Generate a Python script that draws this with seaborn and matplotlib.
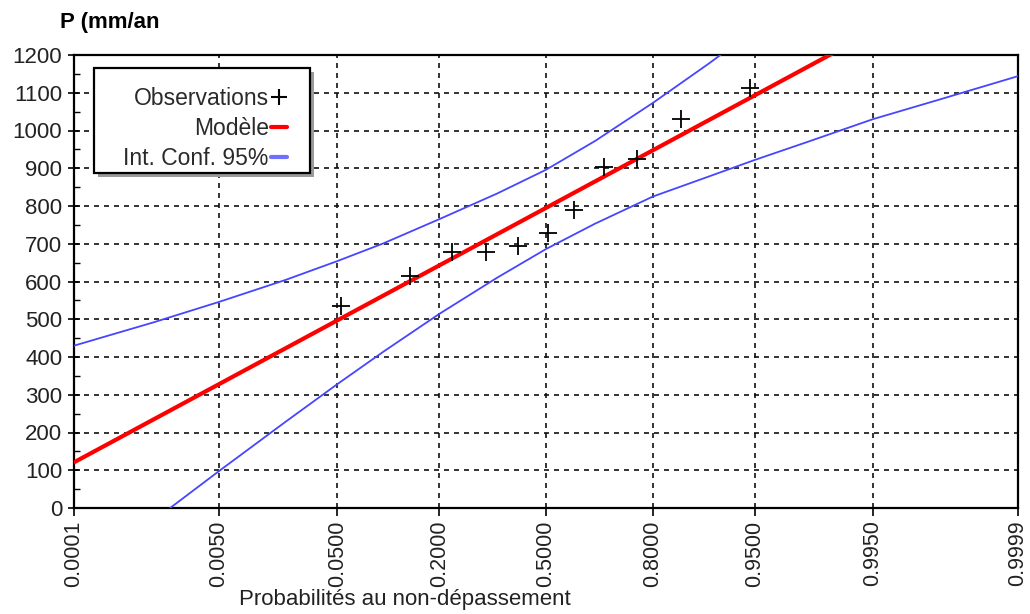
import math
import numpy as np
import pandas as pd
import matplotlib
matplotlib.use("Agg")
import matplotlib.pyplot as plt
from matplotlib.lines import Line2D
from matplotlib.patches import Rectangle
from matplotlib.ticker import FixedLocator, NullLocator, MultipleLocator
import seaborn as sns

# ---------------- data ----------------
tick_probs = [0.0001, 0.0050, 0.0500, 0.2000, 0.5000, 0.8000, 0.9500, 0.9950, 0.9999]
tick_labels = ["0.0001", "0.0050", "0.0500", "0.2000", "0.5000", "0.8000", "0.9500", "0.9950", "0.9999"]
y_ticks = list(range(0, 1201, 100))

obs_prob = [0.053, 0.142, 0.230, 0.318, 0.413, 0.506, 0.587, 0.676, 0.763, 0.856, 0.946]
obs_p = [535, 615, 678, 678, 694, 728, 789, 903, 924, 1030, 1112]

model_prob = [0.0001, 0.9999]
model_p = [121, 1469]

upper_prob = [0.0001, 0.001, 0.005, 0.02, 0.05, 0.1, 0.2, 0.35, 0.5, 0.65, 0.8, 0.9, 0.95]
upper_p = [430, 492, 546, 604, 654, 701, 765, 833, 896, 972, 1073, 1177, 1267]

lower_prob = [0.00153, 0.005, 0.02, 0.05, 0.1, 0.2, 0.35, 0.5, 0.65, 0.8, 0.9, 0.95, 0.98, 0.995, 0.999, 0.9999]
lower_p = [0, 98, 228, 328, 414, 514, 610, 686, 753, 825, 878, 922, 969, 1030, 1081, 1144]

labels = ["Observations", "Modèle", "Int. Conf. 95%"]

# ---------------- normal probability scale ----------------
_A = [-3.969683028665376e+01, 2.209460984245205e+02, -2.759285104469687e+02,
      1.383577518672690e+02, -3.066479806614716e+01, 2.506628277459239e+00]
_B = [-5.447609879822406e+01, 1.615858368580409e+02, -1.556989798598866e+02,
      6.680131188771972e+01, -1.328068155288572e+01]
_C = [-7.784894002430293e-03, -3.223964580411365e-01, -2.400758277161838e+00,
      -2.549671010229297e+00, 4.374664141464968e+00, 2.938163982698783e+00]
_D = [7.784695709041462e-03, 3.224671290700398e-01, 2.445134137142996e+00,
      3.754408661907416e+00]


def _ppf(p):
    p = np.clip(np.asarray(p, dtype=float), 1e-12, 1 - 1e-12)
    plow = 0.02425
    q = p - 0.5
    r = q * q
    central = (((((_A[0] * r + _A[1]) * r + _A[2]) * r + _A[3]) * r + _A[4]) * r + _A[5]) * q / \
              (((((_B[0] * r + _B[1]) * r + _B[2]) * r + _B[3]) * r + _B[4]) * r + 1)
    ql = np.sqrt(-2 * np.log(np.minimum(p, 1 - p)))
    tail = (((((_C[0] * ql + _C[1]) * ql + _C[2]) * ql + _C[3]) * ql + _C[4]) * ql + _C[5]) / \
           ((((_D[0] * ql + _D[1]) * ql + _D[2]) * ql + _D[3]) * ql + 1)
    out = np.where(p < plow, tail, np.where(p > 1 - plow, -tail, central))
    return out


_erf = np.vectorize(math.erf)


def _cdf(z):
    z = np.asarray(z, dtype=float)
    return 0.5 * (1 + _erf(z / math.sqrt(2)))


# ---------------- figure ----------------
sns.set_theme(style="white")
plt.rcParams["font.family"] = ["Liberation Sans", "DejaVu Sans"]

fig = plt.figure(figsize=(10.30, 6.14), dpi=100)
ax = fig.add_axes([74 / 1030, 1 - 508 / 614, (1018 - 74) / 1030, (508 - 55) / 614])
ax.set_xscale("function", functions=(_ppf, _cdf))

df_up = pd.DataFrame({"p": upper_prob, "v": upper_p})
df_lo = pd.DataFrame({"p": lower_prob, "v": lower_p})
df_mod = pd.DataFrame({"p": model_prob, "v": model_p})
df_obs = pd.DataFrame({"p": obs_prob, "v": obs_p})

blue = "#4646ff"
sns.lineplot(data=df_up, x="p", y="v", ax=ax, color=blue, lw=1.3, estimator=None, sort=False, zorder=3)
sns.lineplot(data=df_lo, x="p", y="v", ax=ax, color=blue, lw=1.3, estimator=None, sort=False, zorder=3)
sns.lineplot(data=df_mod, x="p", y="v", ax=ax, color="#ff0000", lw=3.0, estimator=None, sort=False, zorder=4)
sns.scatterplot(data=df_obs, x="p", y="v", ax=ax, marker="+", color="black", s=150, linewidth=1.3, zorder=5)

ax.set_xlim(0.0001, 0.9999)
ax.set_ylim(0, 1200)
ax.xaxis.set_major_locator(FixedLocator(tick_probs))
ax.xaxis.set_minor_locator(NullLocator())
ax.set_xticklabels(tick_labels, rotation=90, fontsize=15.5, color="#222222")
ax.yaxis.set_major_locator(FixedLocator(y_ticks))
ax.yaxis.set_minor_locator(MultipleLocator(50))
ax.set_yticklabels([str(v) for v in y_ticks], fontsize=16, color="#222222")
ax.set_xlabel("")
ax.set_ylabel("")

ax.grid(True, which="major", color="#111111", linestyle=(0, (3, 3)), linewidth=1.2)
ax.set_axisbelow(True)

for s in ax.spines.values():
    s.set_visible(True)
    s.set_color("black")
    s.set_linewidth(1.6)

ax.tick_params(axis="y", which="major", direction="inout", length=9, width=1.2,
               left=True, right=False, pad=4, colors="black", labelcolor="#222222")
ax.tick_params(axis="y", which="minor", direction="in", length=4, width=1.0,
               left=True, right=False, colors="black")
ax.tick_params(axis="x", which="major", direction="out", length=6, width=1.2,
               bottom=True, top=False, pad=3, colors="black", labelcolor="#222222")

# legend box with drop shadow
bx0, bx1 = (94 - 74) / 944, (310 - 74) / 944
by0, by1 = (508 - 173) / 453, (508 - 68) / 453
shadow = Rectangle((bx0 + 4 / 944, by0 - 4 / 453), bx1 - bx0, by1 - by0, transform=ax.transAxes,
                   facecolor="#9a9a9a", edgecolor="none", zorder=8)
box = Rectangle((bx0, by0), bx1 - bx0, by1 - by0, transform=ax.transAxes,
                facecolor="white", edgecolor="black", linewidth=1.6, zorder=9)
ax.add_patch(shadow)
ax.add_patch(box)

handles = [
    Line2D([], [], color="black", marker="+", linestyle="none", markersize=12, mew=1.5),
    Line2D([], [], color="#ff0000", lw=3),
    Line2D([], [], color="#7070ff", lw=3),
]
leg = ax.legend(handles, labels, loc="upper right", bbox_to_anchor=((287 - 74) / 944, (508 - 87) / 453),
                frameon=False, markerfirst=False, handlelength=0.7, handletextpad=0.1,
                borderpad=0, borderaxespad=0, labelspacing=0.3, fontsize=16.5)
leg.set_zorder(10)
for t in leg.get_texts():
    t.set_color("#2a2a2a")

fig.text(60 / 1030, 1 - 28 / 614, "P (mm/an", fontsize=16, fontweight="bold", ha="left",
         va="baseline", color="black")
fig.text(405 / 1030, 1 - 600 / 614, "Probabilités au non-dépassement", fontsize=16,
         ha="center", va="center", color="#222222")

fig.savefig("out.png", dpi=100)
